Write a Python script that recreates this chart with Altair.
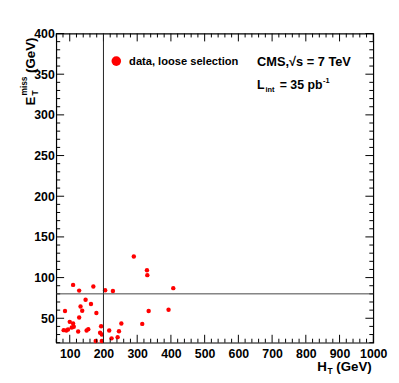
import altair as alt
import pandas as pd

# ---- data ----
ht = [290, 329, 330, 407, 110, 128, 170, 205, 228, 147, 132, 163, 137, 86, 179,
      334, 393, 128, 100, 110, 112, 106, 95, 82, 90, 125, 150, 155, 193, 190,
      195, 177, 195, 217, 224, 242, 246, 253, 315]
met = [126, 109, 103, 87, 91, 84, 89, 84.5, 83.6, 72.7, 64.5, 67.5, 59.3, 59, 56.5,
       59, 60.5, 51, 45.6, 43.5, 39.5, 38.6, 36.2, 35.4, 35, 33.8, 35, 36.6, 40.2, 32.2,
       30.1, 22, 22, 35, 25.3, 26.8, 34.1, 43.5, 43.1]
ht_cut = [200]
met_cut = [80]
x_labels = [100, 200, 300, 400, 500, 600, 700, 800, 900, 1000]
y_labels = [50, 100, 150, 200, 250, 300, 350, 400]
x_minor = [v for v in range(60, 1001, 20) if v % 100 != 0]
y_minor = [v for v in range(20, 401, 10) if v % 50 != 0]

W, H = 322, 314
X0, Y0 = 57, 31  # plot origin in page pixels
FONT = "Liberation Sans"

xs = alt.Scale(domain=[60, 1000], nice=False, zero=False)
ys = alt.Scale(domain=[20, 400], nice=False, zero=False)

XA = alt.Axis(values=x_labels, ticks=False, domain=False, grid=False, title=None, format="d",
              labelFont=FONT, labelFontSize=12.5, labelFontWeight="bold",
              labelColor="black", labelPadding=5, labelFlush=False, labelOverlap=False)
YA = alt.Axis(values=y_labels, ticks=False, domain=False, grid=False, title=None, format="d",
              labelFont=FONT, labelFontSize=12.5, labelFontWeight="bold",
              labelColor="black", labelPadding=2, labelFlush=False, labelOverlap=False)


def X(field):
    return alt.X(field, type="quantitative", scale=xs, axis=XA, title=None)


def Y(field):
    return alt.Y(field, type="quantitative", scale=ys, axis=YA, title=None)


pts = pd.DataFrame({"ht": ht, "met": met})

points = alt.Chart(pts).mark_circle(color="#ff0000", size=20, opacity=1).encode(
    x=X("ht"), y=Y("met"))

vline = alt.Chart(pd.DataFrame({"v": ht_cut})).mark_rule(color="#222", strokeWidth=1).encode(
    x=X("v"))
hline = alt.Chart(pd.DataFrame({"v": met_cut})).mark_rule(color="#444", strokeWidth=1).encode(
    y=Y("v"))


def xticks(vals, length):
    df = pd.DataFrame({"v": vals})
    b = alt.Chart(df).mark_rule(color="black", strokeWidth=1).encode(
        x=X("v"), y=alt.value(H), y2=alt.value(H - length))
    t = alt.Chart(df).mark_rule(color="black", strokeWidth=1).encode(
        x=X("v"), y=alt.value(0), y2=alt.value(length))
    return b + t


def yticks(vals, length):
    df = pd.DataFrame({"v": vals})
    l = alt.Chart(df).mark_rule(color="black", strokeWidth=1).encode(
        y=Y("v"), x=alt.value(0), x2=alt.value(length))
    r = alt.Chart(df).mark_rule(color="black", strokeWidth=1).encode(
        y=Y("v"), x=alt.value(W), x2=alt.value(W - length))
    return l + r


def txt(s, x, y, size, angle=0, align="left", baseline="alphabetic"):
    kw = dict(font=FONT, fontSize=size, fontWeight="bold", color="black",
              align=align, baseline=baseline)
    if angle:
        kw["angle"] = angle
    return alt.Chart(pd.DataFrame({"t": [s]})).mark_text(**kw).encode(
        x=alt.value(x - X0), y=alt.value(y - Y0), text="t:N")


legend_dot = alt.Chart(pd.DataFrame({"t": ["data, loose selection"]})).mark_circle(
    color="#ff0000", size=95, opacity=1).encode(x=alt.value(118 - X0), y=alt.value(59 - Y0))

texts = [
    txt("data, loose selection", 131, 63, 11.3),
    txt("CMS,\u221as = 7 TeV", 261, 64, 13),
    txt("L", 261, 87.5, 12.5),
    txt("int", 269.5, 90, 7.5),
    txt("= 35 pb", 284, 87.5, 12.5),
    txt("-1", 328, 81, 7.5),
    # x title
    txt("H", 322, 374, 13.5),
    txt("T", 332.5, 377, 8.5),
    txt("(GeV)", 341.5, 374, 13.5),
    # y title (rotated)
    txt("E", 35, 104, 13.5, angle=270),
    txt("miss", 27, 94, 8.5, angle=270),
    txt("T", 38, 94, 8.5, angle=270),
    txt("(GeV)", 35, 71, 13.5, angle=270),
]

chart = alt.layer(
    points,
    xticks(x_labels, 8), xticks(x_minor, 4),
    yticks(y_labels, 8), yticks(y_minor, 4),
    vline, hline, legend_dot, *texts,
).properties(
    width=W, height=H,
    autosize=alt.AutoSizeParams(type="none"),
    padding={"left": X0 - 8, "top": Y0 - 8, "right": 18, "bottom": 35},
    background="white",
).configure_view(stroke="black", strokeWidth=1.2)

chart.save("out.html", embed_options={"renderer": "svg", "actions": False})
